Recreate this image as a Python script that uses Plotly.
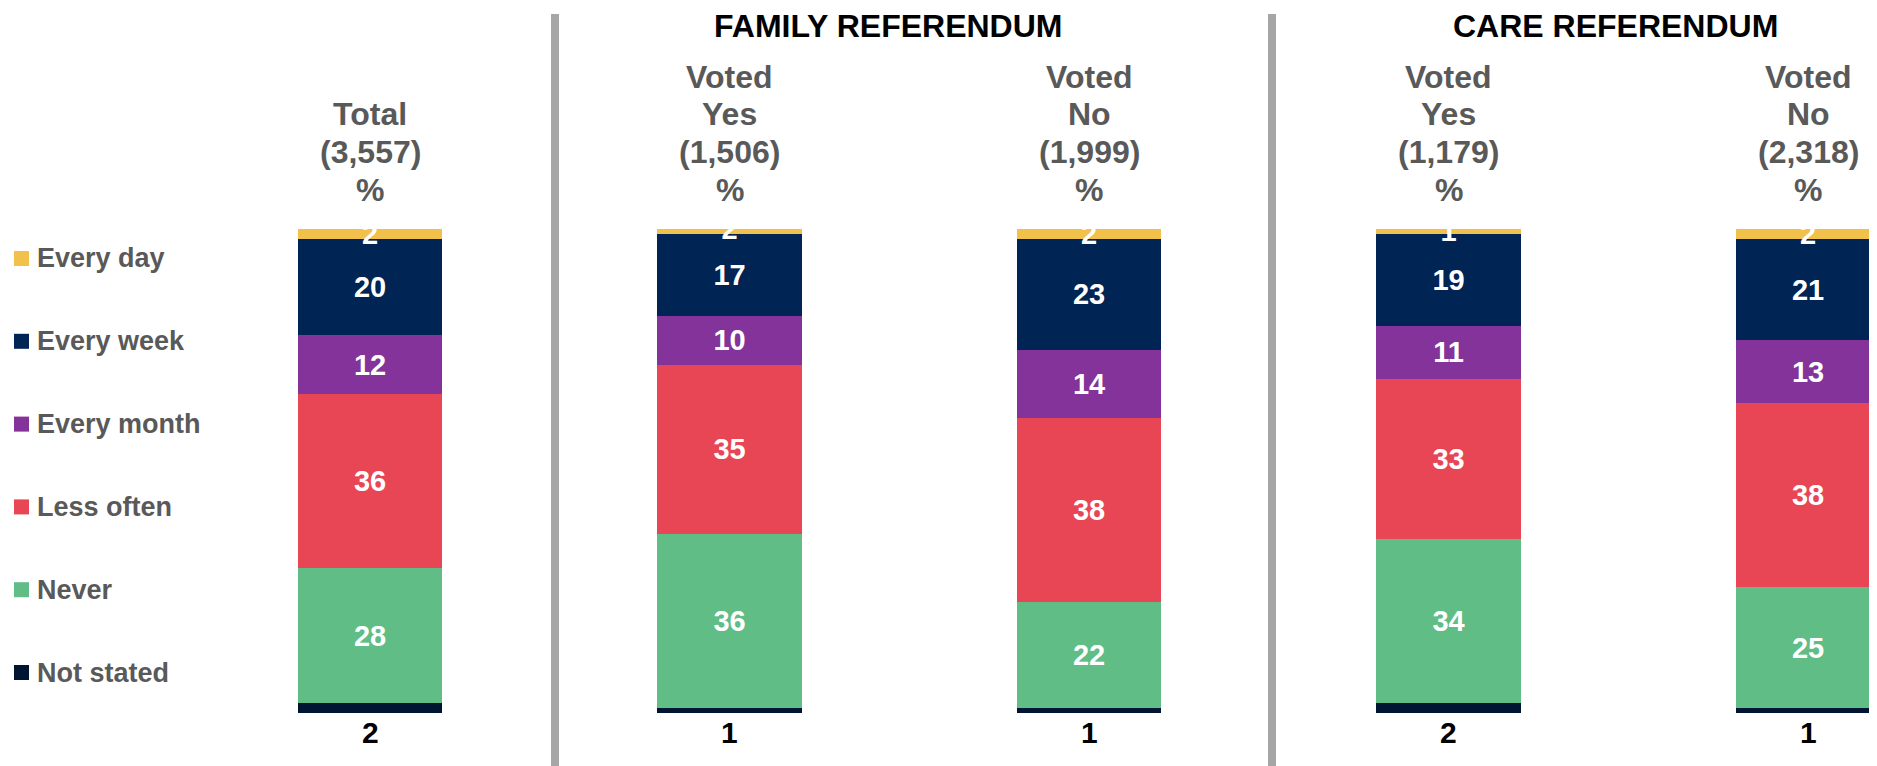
import plotly.graph_objects as go

# ---- data ----
groups = ["Total", "Family Yes", "Family No", "Care Yes", "Care No"]
group_headers = [["Total", "(3,557)", "%"],
                 ["Voted", "Yes", "(1,506)", "%"],
                 ["Voted", "No", "(1,999)", "%"],
                 ["Voted", "Yes", "(1,179)", "%"],
                 ["Voted", "No", "(2,318)", "%"]]
referendum_titles = ["FAMILY REFERENDUM", "CARE REFERENDUM"]

series_names = ["Every day", "Every week", "Every month", "Less often", "Never", "Not stated"]
every_day = [2, 2, 2, 1, 2]
every_week = [20, 17, 23, 19, 21]
every_month = [12, 10, 14, 11, 13]
less_often = [36, 35, 38, 33, 38]
never = [28, 36, 22, 34, 25]
not_stated = [2, 1, 1, 2, 1]

colors = {
    "Every day": "#F2C14B",
    "Every week": "#002453",
    "Every month": "#833399",
    "Less often": "#E84655",
    "Never": "#60BD85",
    "Not stated": "#001531",
}
values = {
    "Every day": every_day,
    "Every week": every_week,
    "Every month": every_month,
    "Less often": less_often,
    "Never": never,
    "Not stated": not_stated,
}

FONT = "Liberation Sans, Arial, sans-serif"
GREY = "#595959"
W, H = 1877, 766          # window size
OFF = 8                   # default page body margin
FW, FH = W - OFF, H - OFF  # figure size
TOP = 229 - OFF           # plot area top (figure px) = top of bars
PH = FH - TOP             # plot area height


def px_x(p):  # window pixel -> paper x
    return (p - OFF) / FW


def px_y(p):  # window pixel -> paper y
    return (FH - (p - OFF)) / PH


fig = go.Figure()
# stack from bottom up
for name in reversed(series_names):
    vals = values[name]
    show_text = name != "Not stated"
    fig.add_trace(go.Bar(
        x=groups, y=vals, name=name,
        marker=dict(color=colors[name], line=dict(width=0)),
        width=0.403,
        text=[f"<b>{v}</b>" for v in vals] if show_text else None,
        textposition="inside" if show_text else "none",
        insidetextanchor="middle",
        textangle=0,
        textfont=dict(color="white", size=29, family=FONT),
        constraintext="none",
        cliponaxis=True,
        showlegend=False,
        hoverinfo="skip",
    ))

# Not stated values below the bars
for g, v in zip(groups, not_stated):
    fig.add_annotation(x=g, y=0, xref="x", yref="y", text=f"<b>{v}</b>",
                       showarrow=False, yanchor="top", yshift=-1,
                       font=dict(size=30, color="black", family=FONT))

# column headers, one annotation per line (bottom line aligned)
line_bottom, line_pitch = 190, 37.8
for g, lines in zip(groups, group_headers):
    n = len(lines)
    for k, ln in enumerate(lines):
        yc = line_bottom - (n - 1 - k) * line_pitch
        fig.add_annotation(x=g, xref="x", y=px_y(yc), yref="paper", text=f"<b>{ln}</b>",
                           showarrow=False, yanchor="middle", xanchor="center",
                           font=dict(size=32, color=GREY, family=FONT))

# referendum titles
for t, xc in zip(referendum_titles, [888, 1615]):
    fig.add_annotation(x=px_x(xc), xref="paper", y=px_y(26), yref="paper", text=f"<b>{t}</b>",
                       showarrow=False, yanchor="middle", xanchor="center",
                       font=dict(size=32, color="black", family=FONT))

# divider lines
for xd in [555, 1272]:
    fig.add_shape(type="line", xref="paper", yref="paper", x0=px_x(xd), x1=px_x(xd),
                  y0=px_y(H), y1=px_y(14), line=dict(color="#A6A6A6", width=8))

# legend (drawn manually: square + label)
leg_top, leg_step, sq = 258.5, 82.8, 15
for i, name in enumerate(series_names):
    yc = leg_top + i * leg_step
    fig.add_shape(type="rect", xref="paper", yref="paper",
                  x0=px_x(14), x1=px_x(14 + sq), y0=px_y(yc - sq / 2), y1=px_y(yc + sq / 2),
                  fillcolor=colors[name], line=dict(width=0))
    fig.add_annotation(x=px_x(35), xref="paper", y=px_y(yc), yref="paper",
                       text=f"<b>{name}</b>", showarrow=False, xanchor="left", yanchor="middle",
                       font=dict(size=27, color=GREY, family=FONT))

px_per_unit = 359.5
x0_px = 370 - OFF
ypx = (713 - 229) / 100.0
bottom_gap = H - 713
fig.update_layout(
    width=FW, height=FH,
    barmode="stack",
    margin=dict(l=0, r=0, t=TOP, b=0, autoexpand=False),
    paper_bgcolor="white", plot_bgcolor="white",
    showlegend=False,
    xaxis=dict(range=[-x0_px / px_per_unit, (FW - x0_px) / px_per_unit], visible=False,
               categoryorder="array", categoryarray=groups, fixedrange=True),
    yaxis=dict(range=[-bottom_gap / ypx, 100], visible=False, fixedrange=True),
    uniformtext=dict(minsize=29, mode="show"),
    font=dict(family=FONT),
)

fig.write_html("out.html")
